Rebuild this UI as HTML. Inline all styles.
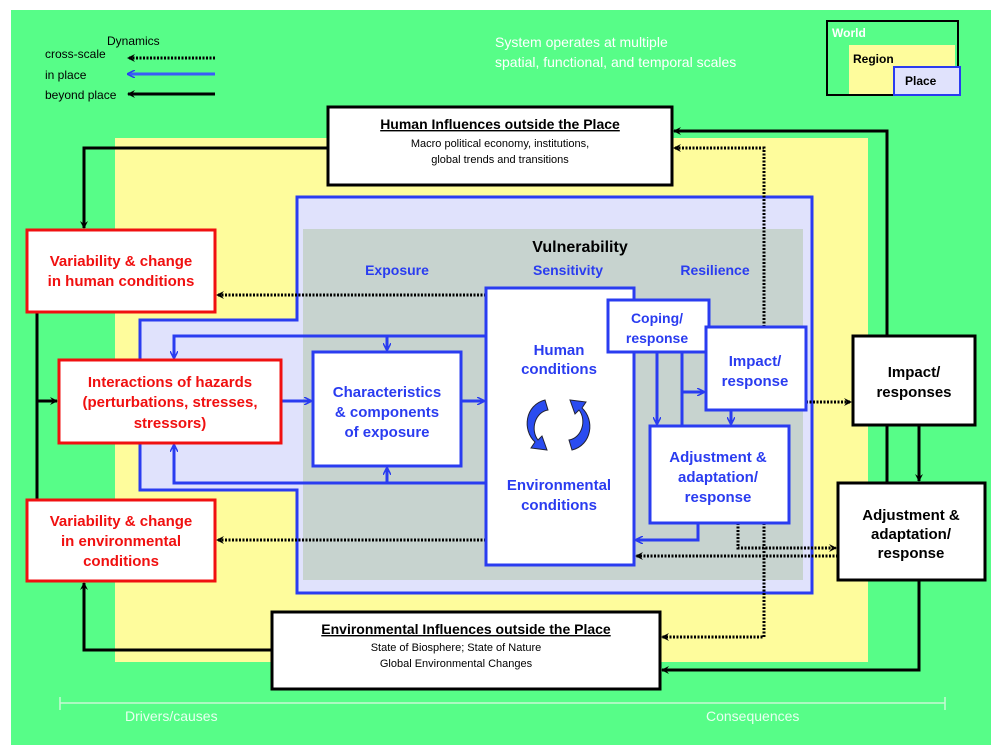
<!DOCTYPE html>
<html><head><meta charset="utf-8"><style>
html,body{margin:0;padding:0;background:#fff;}
svg{display:block;font-family:"Liberation Sans",Verdana,sans-serif;}
.b{font-weight:bold;}
</style></head><body>
<svg width="1000" height="751" viewBox="0 0 1000 751" xmlns="http://www.w3.org/2000/svg">
<defs>
<marker id="ak" markerWidth="8" markerHeight="8" refX="7" refY="4" orient="auto" markerUnits="userSpaceOnUse"><path d="M0,0 L8,4 L0,8 L3,4 Z" fill="#000"/></marker>
<marker id="ab" markerWidth="8" markerHeight="8" refX="7" refY="4" orient="auto" markerUnits="userSpaceOnUse"><path d="M0,0 L8,4 L0,8" fill="none" stroke="#2a3cf0" stroke-width="1.5"/></marker>
</defs>
<rect x="11" y="10" width="980" height="735" fill="#57fd88"/>
<rect x="115" y="138" width="753" height="524" fill="#fefc9c"/>
<!-- place polygon -->
<path d="M297,197 H812 V593 H297 V490 H140 V320 H297 Z" fill="#e0e2fc" stroke="#2a3cf0" stroke-width="3"/>
<rect x="303" y="229" width="500" height="351" fill="#c7d3cf"/>
<rect x="300" y="321" width="3" height="168" fill="#e0e2fc"/>
<!-- legend -->
<text x="107" y="45" font-size="12">Dynamics</text>
<text x="45" y="58" font-size="12">cross-scale</text>
<text x="45" y="79" font-size="12">in place</text>
<text x="45" y="99" font-size="12">beyond place</text>
<line x1="215" y1="58" x2="128" y2="58" stroke="#000" stroke-width="3" stroke-dasharray="2,1.5" marker-end="url(#ak)"/>
<line x1="215" y1="74" x2="128" y2="74" stroke="#3a5cf8" stroke-width="3" marker-end="url(#ab)"/>
<line x1="215" y1="94" x2="128" y2="94" stroke="#000" stroke-width="3" marker-end="url(#ak)"/>
<text x="495" y="47" font-size="14" fill="#fff">System operates at multiple</text>
<text x="495" y="67" font-size="14" fill="#fff">spatial, functional, and temporal scales</text>
<rect x="827" y="21" width="131" height="74" fill="none" stroke="#000" stroke-width="2"/>
<rect x="849" y="45" width="106" height="49" fill="#fefc9c"/>
<rect x="894" y="67" width="66" height="28" fill="#e0e2fc" stroke="#2a3cf0" stroke-width="2"/>
<text x="832" y="37" font-size="12" fill="#fff" class="b">World</text>
<text x="853" y="63" font-size="12" class="b">Region</text>
<text x="905" y="85" font-size="12" class="b">Place</text>
<!-- black lines -->
<g stroke="#000" stroke-width="3" fill="none">
<polyline points="328,148 84,148 84,228" marker-end="url(#ak)"/>
<polyline points="272,650 84,650 84,583" marker-end="url(#ak)"/>
<line x1="37" y1="312" x2="37" y2="500"/>
<line x1="37" y1="401" x2="57" y2="401" marker-end="url(#ak)"/>
<polyline points="887,336 887,131 674,131" marker-end="url(#ak)"/>
<line x1="887" y1="425" x2="887" y2="483"/>
<line x1="919" y1="425" x2="919" y2="481" marker-end="url(#ak)"/>
<polyline points="919,580 919,670 662,670" marker-end="url(#ak)"/>
</g>
<!-- dotted -->
<g stroke="#000" stroke-width="3" fill="none" stroke-dasharray="2,1.5">
<polyline points="764,327 764,148 674,148" marker-end="url(#ak)"/>
<polyline points="764,523 764,637 662,637" marker-end="url(#ak)"/>
<line x1="486" y1="295" x2="217" y2="295" marker-end="url(#ak)"/>
<line x1="486" y1="540" x2="217" y2="540" marker-end="url(#ak)"/>
<line x1="806" y1="402" x2="851" y2="402" marker-end="url(#ak)"/>
<polyline points="738,523 738,548 836,548" marker-end="url(#ak)"/>
<line x1="838" y1="556" x2="636" y2="556" marker-end="url(#ak)"/>
</g>
<!-- blue lines -->
<g stroke="#2a3cf0" stroke-width="3" fill="none">
<line x1="281" y1="401" x2="311" y2="401" marker-end="url(#ab)"/>
<line x1="461" y1="401" x2="484" y2="401" marker-end="url(#ab)"/>
<polyline points="486,336 174,336 174,358" marker-end="url(#ab)"/>
<line x1="387" y1="336" x2="387" y2="350" marker-end="url(#ab)"/>
<polyline points="486,483 174,483 174,445" marker-end="url(#ab)"/>
<line x1="387" y1="483" x2="387" y2="468" marker-end="url(#ab)"/>
<line x1="657" y1="352" x2="657" y2="424" marker-end="url(#ab)"/>
<line x1="682" y1="352" x2="682" y2="426"/>
<line x1="682" y1="392" x2="704" y2="392" marker-end="url(#ab)"/>
<line x1="731" y1="410" x2="731" y2="424" marker-end="url(#ab)"/>
<polyline points="698,523 698,540 636,540" marker-end="url(#ab)"/>
</g>
<!-- boxes -->
<rect x="328" y="107" width="344" height="78" fill="#fff" stroke="#000" stroke-width="3"/>
<text x="500" y="129" font-size="14" class="b" text-anchor="middle" text-decoration="underline">Human Influences outside the Place</text>
<text x="500" y="147" font-size="11" text-anchor="middle">Macro political economy, institutions,</text>
<text x="500" y="163" font-size="11" text-anchor="middle">global trends and transitions</text>
<rect x="272" y="612" width="388" height="77" fill="#fff" stroke="#000" stroke-width="3"/>
<text x="466" y="634" font-size="14" class="b" text-anchor="middle" text-decoration="underline">Environmental Influences outside the Place</text>
<text x="456" y="651" font-size="11" text-anchor="middle">State of Biosphere; State of Nature</text>
<text x="456" y="667" font-size="11" text-anchor="middle">Global Environmental Changes</text>
<g fill="#fff" stroke="#f01010" stroke-width="3">
<rect x="27" y="230" width="188" height="82"/>
<rect x="59" y="360" width="222" height="83"/>
<rect x="27" y="500" width="188" height="81"/>
</g>
<g fill="#f01010" font-size="15" class="b" text-anchor="middle">
<text x="121" y="266">Variability &amp; change</text>
<text x="121" y="286">in human conditions</text>
<text x="170" y="387">Interactions of hazards</text>
<text x="170" y="407">(perturbations, stresses,</text>
<text x="170" y="428">stressors)</text>
<text x="121" y="526">Variability &amp; change</text>
<text x="121" y="546">in environmental</text>
<text x="121" y="566">conditions</text>
</g>
<g fill="#fff" stroke="#2a3cf0" stroke-width="3">
<rect x="313" y="352" width="148" height="114"/>
<rect x="486" y="288" width="148" height="277"/>
<rect x="608" y="300" width="101" height="52"/>
<rect x="706" y="327" width="100" height="83"/>
<rect x="650" y="426" width="139" height="97"/>
</g>
<text x="580" y="252" font-size="16" class="b" text-anchor="middle">Vulnerability</text>
<g fill="#2a3cf0" class="b" text-anchor="middle">
<text x="397" y="275" font-size="14">Exposure</text>
<text x="568" y="275" font-size="14">Sensitivity</text>
<text x="715" y="275" font-size="14">Resilience</text>
<text x="387" y="397" font-size="15">Characteristics</text>
<text x="387" y="417" font-size="15">&amp; components</text>
<text x="387" y="437" font-size="15">of exposure</text>
<text x="559" y="355" font-size="15">Human</text>
<text x="559" y="374" font-size="15">conditions</text>
<text x="559" y="490" font-size="15">Environmental</text>
<text x="559" y="510" font-size="15">conditions</text>
<text x="657" y="323" font-size="14">Coping/</text>
<text x="657" y="343" font-size="14">response</text>
<text x="755" y="366" font-size="15">Impact/</text>
<text x="755" y="386" font-size="15">response</text>
<text x="718" y="462" font-size="15">Adjustment &amp;</text>
<text x="718" y="482" font-size="15">adaptation/</text>
<text x="718" y="502" font-size="15">response</text>
</g>
<!-- cycle arrows -->
<g fill="#2a4cf0" stroke="#223" stroke-width="1">
<path d="M545,400 C525,405 522,430 535,442 L531,448 L547,450 L542,436 L538,440 C530,430 535,412 548,410 Z"/>
<path d="M572,450 C592,445 595,420 582,408 L586,402 L570,400 L575,414 L579,410 C587,420 582,438 569,440 Z"/>
</g>
<g fill="#fff" stroke="#000" stroke-width="3">
<rect x="853" y="336" width="122" height="89"/>
<rect x="838" y="483" width="147" height="97"/>
</g>
<g font-size="15" class="b" text-anchor="middle">
<text x="914" y="377">Impact/</text>
<text x="914" y="397">responses</text>
<text x="911" y="520">Adjustment &amp;</text>
<text x="911" y="539">adaptation/</text>
<text x="911" y="558">response</text>
</g>
<!-- bottom axis -->
<g stroke="#c8f8d4" stroke-width="1.5">
<line x1="60" y1="703" x2="945" y2="703"/>
<line x1="60" y1="697" x2="60" y2="710"/>
<line x1="945" y1="697" x2="945" y2="710"/>
</g>
<text x="125" y="721" font-size="14" fill="#e8fff0">Drivers/causes</text>
<text x="706" y="721" font-size="14" fill="#e8fff0">Consequences</text>
</svg>
</body></html>
